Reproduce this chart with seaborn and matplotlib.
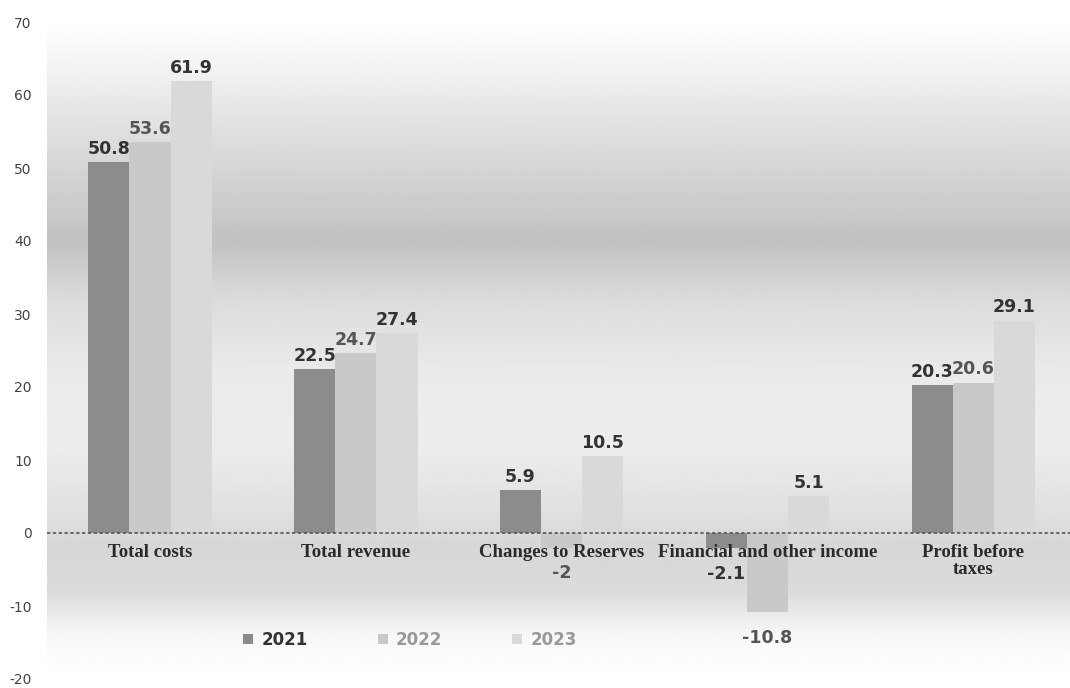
import numpy as np
import pandas as pd
import matplotlib
matplotlib.use("Agg")
import matplotlib.pyplot as plt
import seaborn as sns
from matplotlib.patches import Patch

categories = ["Total costs", "Total revenue", "Changes to Reserves",
              "Financial and other income", "Profit before\ntaxes"]
years = ["2021", "2022", "2023"]
v2021 = [50.8, 22.5, 5.9, -2.1, 20.3]
v2022 = [53.6, 24.7, -2.0, -10.8, 20.6]
v2023 = [61.9, 27.4, 10.5, 5.1, 29.1]
yticks = [-20, -10, 0, 10, 20, 30, 40, 50, 60, 70]

rows = []
for y, vals in zip(years, [v2021, v2022, v2023]):
    for c, v in zip(categories, vals):
        rows.append({"category": c, "year": y, "value": v})
df = pd.DataFrame(rows)

sns.set_theme(style="white")
plt.rcParams["font.family"] = ["DejaVu Sans"]

fig = plt.figure(figsize=(10.7, 6.88), dpi=100)
ax = fig.add_axes([47 / 1070, 9 / 688, 1 - 47 / 1070, 657 / 688])

palette = {"2021": "#8c8c8c", "2022": "#c9c9c9", "2023": "#d9d9d9"}
sns.barplot(data=df, x="category", y="value", hue="year", palette=palette,
            width=0.6, gap=0, ax=ax, legend=False, zorder=3,
            edgecolor="none")

XMAX = 4.47
ax.set_ylim(-20, 70)
ax.set_xlim(-0.5, XMAX)

# background gradient (decorative scan look)
grad_y = np.linspace(70, -20, 300)
shade = np.interp(grad_y, [-20, -14, -8, -2, 3, 12, 22, 32, 40, 48, 58, 66, 70],
                  [1.0, 0.97, 0.86, 0.84, 0.88, 0.93, 0.92, 0.86, 0.76, 0.82, 0.9, 0.97, 1.0])
img = np.tile(shade[:, None], (1, 10))
ax.imshow(img, cmap="gray", vmin=0, vmax=1, aspect="auto",
          extent=[-0.5, XMAX, -20, 70], zorder=0, interpolation="bilinear")

ax.axhline(0, color="#555555", lw=1.2, ls=(0, (2, 1.5)), zorder=4)

label_colors = ["#333333", "#555555", "#333333"]
for cont, col in zip(ax.containers, label_colors):
    vals = cont.datavalues
    ax.bar_label(cont, labels=[f"{v:g}" if v >= 0 else "" for v in vals],
                 padding=3, fontsize=12.5, fontweight="bold", color=col, zorder=5)
    ax.bar_label(cont, labels=[f"{v:g}" if v < 0 else "" for v in vals],
                 padding=12, fontsize=12.5, fontweight="bold", color=col, zorder=5)

# category labels drawn inside the plot just below zero
ax.set_xticks(range(len(categories)))
ax.set_xticklabels([])
for i, c in enumerate(categories):
    ax.text(i, -2.7 if "\n" not in c else -3.8, c, ha="center", va="center",
            fontsize=13.5, fontweight="bold", family="Liberation Serif",
            color="#2a2a2a", zorder=6, linespacing=1.0)

ax.set_yticks(yticks)
ax.set_yticklabels([str(t) for t in yticks], fontsize=10, color="#444444")
ax.tick_params(axis="y", length=0, pad=11)
ax.tick_params(axis="x", length=0)
ax.set_xlabel("")
ax.set_ylabel("")
for s in ax.spines.values():
    s.set_visible(False)

handles = [Patch(facecolor=palette[y], edgecolor="none") for y in years]
leg = fig.legend(handles, years, loc="center", ncol=3, frameon=False,
                 bbox_to_anchor=(410 / 1070, 1 - 640 / 688),
                 prop={"weight": "bold", "size": 12}, handlelength=0.6,
                 handleheight=0.6, columnspacing=4.2, handletextpad=0.5)
for t, col in zip(leg.get_texts(), ["#333333", "#999999", "#999999"]):
    t.set_color(col)

fig.savefig("out.png", dpi=100)
